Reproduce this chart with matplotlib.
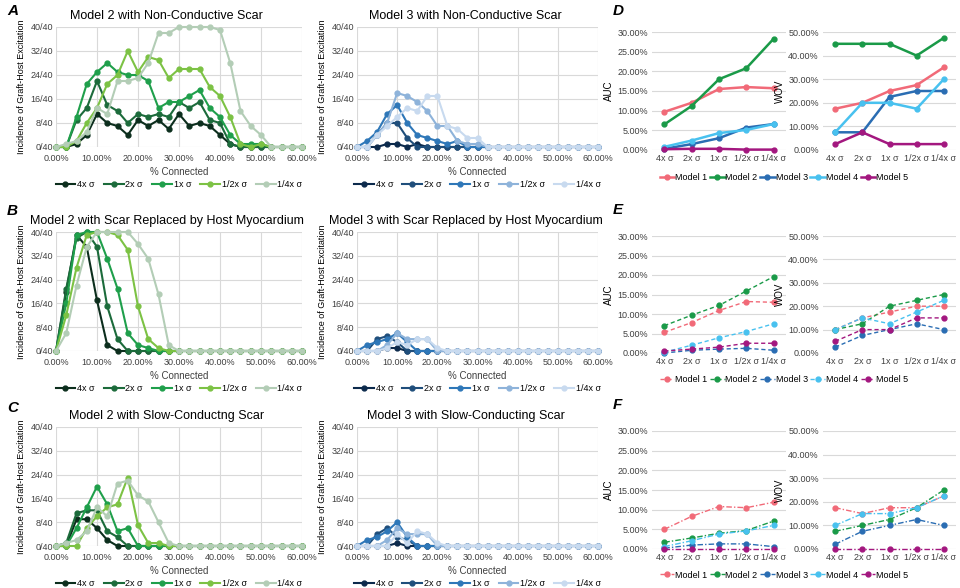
import matplotlib.pyplot as plt
import numpy as np

plt.rcParams['font.family'] = ['Liberation Sans', 'DejaVu Sans']

# % connected, 0 to 60 in 2.5 steps
connected = np.arange(0, 60.1, 2.5)
sigma_labels = ['4x σ', '2x σ', '1x σ', '1/2x σ', '1/4x σ']


def pad(vals):
    return list(vals) + [0] * (25 - len(vals))


# panel A (non-conductive scar)
m2_nonconductive = [
    pad([0, 0, 1, 4, 11, 8, 7, 4, 9, 7, 9, 6, 11, 7, 8, 7, 4, 1, 0]),
    pad([0, 0, 9, 13, 22, 14, 12, 8, 11, 10, 11, 10, 15, 13, 15, 9, 8, 1, 0]),
    pad([0, 0, 10, 21, 25, 28, 25, 24, 24, 22, 13, 15, 15, 17, 19, 13, 10, 4, 1, 1, 1, 0]),
    pad([0, 0, 2, 8, 13, 21, 24, 32, 25, 30, 29, 23, 26, 26, 26, 20, 17, 10, 1, 0, 1, 0]),
    pad([0, 1, 2, 5, 13, 11, 22, 22, 23, 28, 38, 38, 40, 40, 40, 40, 39, 28, 12, 7, 4, 0]),
]
m3_nonconductive = [
    pad([0, 0, 0, 1, 1, 0, 1, 0]),
    pad([0, 0, 4, 8, 8, 3, 0]),
    pad([0, 2, 5, 11, 14, 8, 4, 3, 2, 1, 2, 0]),
    pad([0, 0, 4, 8, 18, 17, 15, 12, 7, 7, 2, 1, 1, 0]),
    pad([0, 0, 4, 7, 10, 13, 12, 17, 17, 7, 6, 3, 3, 0]),
]

# panel B (scar replaced by host myocardium)
m2_host = [
    pad([0, 20, 39, 35, 17, 2, 0]),
    pad([0, 21, 38, 40, 35, 15, 4, 0]),
    pad([0, 16, 39, 40, 40, 31, 21, 6, 2, 1, 0]),
    pad([0, 12, 28, 39, 40, 40, 39, 34, 15, 4, 1, 0]),
    pad([0, 6, 22, 35, 40, 40, 40, 40, 36, 31, 19, 2, 0]),
]
m3_host = [
    pad([0, 0, 0, 1, 1, 0]),
    pad([0, 0, 4, 5, 3, 0]),
    pad([0, 2, 3, 4, 6, 3, 0]),
    pad([0, 0, 0, 2, 6, 4, 4, 4, 0]),
    pad([0, 0, 0, 1, 3, 2, 4, 4, 1, 0]),
]

# panel C (slow-conducting scar)
m2_slow = [
    pad([0, 0, 9, 9, 6, 2, 0]),
    pad([0, 1, 11, 12, 12, 5, 3, 0]),
    pad([0, 0, 6, 13, 20, 14, 5, 6, 0]),
    pad([0, 0, 0, 6, 10, 13, 14, 23, 7, 1, 1, 0]),
    pad([0, 1, 2, 5, 13, 10, 21, 22, 17, 15, 8, 1, 0]),
]
m3_slow = [
    pad([0, 0, 0, 0, 1, 0]),
    pad([0, 0, 4, 6, 3, 2, 0]),
    pad([0, 2, 3, 5, 8, 3, 0]),
    pad([0, 0, 0, 2, 6, 4, 4, 4, 0]),
    pad([0, 0, 0, 0, 4, 1, 5, 4, 1, 0]),
]

# panels D-F (AUC and WOV in %)
models = ['Model 1', 'Model 2', 'Model 3', 'Model 4', 'Model 5']
auc_d = [[9.7, 12.0, 15.5, 16.0, 15.7],
         [6.5, 11.2, 18.0, 20.8, 28.3],
         [0.3, 1.5, 3.0, 5.7, 6.6],
         [0.8, 2.4, 4.3, 5.1, 6.6],
         [0.2, 0.3, 0.3, 0.1, 0.1]]
wov_d = [[17.5, 20, 25, 27.5, 35],
         [45, 45, 45, 40, 47.5],
         [7.5, 7.5, 22.5, 25, 25],
         [7.5, 20, 20, 17.5, 30],
         [2.5, 7.5, 2.5, 2.5, 2.5]]
auc_e = [[5.3, 7.8, 10.9, 13.2, 13.0],
         [7.0, 9.7, 12.2, 15.9, 19.6],
         [0.0, 0.7, 1.0, 1.2, 0.7],
         [0.2, 2.0, 3.9, 5.5, 7.5],
         [0.5, 1.0, 1.5, 2.5, 2.5]]
wov_e = [[10, 15, 17.5, 20, 20],
         [10, 12.5, 20, 22.5, 25],
         [2.5, 7.5, 10, 12.5, 10],
         [10, 15, 12.5, 17.5, 22.5],
         [5, 10, 10, 15, 15]]
auc_f = [[5.0, 8.3, 10.8, 10.5, 11.9],
         [1.7, 2.8, 4.0, 4.7, 7.1],
         [0.2, 1.0, 1.3, 1.3, 0.6],
         [0.6, 2.1, 3.8, 4.6, 6.0],
         [0, 0, 0, 0, 0]]
wov_f = [[17.5, 15, 17.5, 17.5, 22.5],
         [7.5, 10, 12.5, 17.5, 25],
         [2, 7.5, 10, 12.5, 10],
         [10, 15, 15, 17.5, 22.5],
         [0, 0, 0, 0, 0]]

greens = ['#0c2e1d', '#1c6b3b', '#1f9f4b', '#7cc244', '#b3cdb6']
blues = ['#0c2a4c', '#1f4e7b', '#2e77b8', '#8eb3da', '#c8daef']
model_colors = ['#f16a78', '#1a9a48', '#2a6db3', '#48c1ef', '#a3177f']

W, H = 960, 588
fig = plt.figure(figsize=(W / 100, H / 100), dpi=100)


def px_axes(x0, y0, x1, y1):
    return fig.add_axes([x0 / W, 1 - y1 / H, (x1 - x0) / W, (y1 - y0) / H])


def incidence_plot(box, series, colors, title):
    ax = px_axes(*box)
    for vals, c, lab in zip(series, colors, sigma_labels):
        ax.plot(connected, vals, color=c, lw=1.5, marker='o', ms=3.5,
                label=lab, clip_on=False, zorder=3)
    ax.set_xlim(0, 60)
    ax.set_ylim(0, 40)
    ax.set_xticks(range(0, 61, 10))
    ax.set_xticklabels([f'{v}.00%' for v in range(0, 61, 10)])
    ax.set_yticks(range(0, 41, 8))
    ax.set_yticklabels([f'{v}/40' for v in range(0, 41, 8)])
    ax.grid(color='#d9d9d9', lw=0.8)
    for s in ax.spines.values():
        s.set_visible(False)
    ax.tick_params(length=0, labelsize=6.5, colors='#404040')
    ax.tick_params(axis='x', pad=5)
    ax.tick_params(axis='y', pad=2)
    ax.set_title(title, fontsize=9, pad=6, x=0.45)
    ax.set_xlabel('% Connected', fontsize=7, labelpad=3, color='#404040')
    ax.set_ylabel('Incidence of Graft-Host Excitation', fontsize=6.5, labelpad=3)
    ax.legend(loc='upper center', bbox_to_anchor=(0.5, -0.24), ncol=5,
              frameon=False, fontsize=6.5, handlelength=2.2, columnspacing=1.0,
              handletextpad=0.2, borderpad=0)
    return ax


def summary_plot(box, series, ylim, step, ylabel, ls, lw):
    ax = px_axes(*box)
    x = np.arange(5)
    for vals, c, lab in zip(series, model_colors, models):
        ax.plot(x, vals, color=c, lw=lw, ls=ls, marker='o', ms=3.5,
                label=lab, clip_on=False, zorder=3)
    ax.set_xlim(-0.45, 4.45)
    ax.set_ylim(0, ylim)
    ax.set_yticks(np.arange(0, ylim + 0.1, step))
    ax.set_yticklabels([f'{v:.2f}%' for v in np.arange(0, ylim + 0.1, step)])
    ax.set_xticks(x)
    ax.set_xticklabels(sigma_labels)
    ax.yaxis.grid(color='#d9d9d9', lw=0.8)
    for s in ax.spines.values():
        s.set_visible(False)
    ax.tick_params(length=0, labelsize=6.5, pad=3, colors='#404040')
    ax.set_ylabel(ylabel, fontsize=7, labelpad=2)
    return ax


rows = [
    (27, 147, m2_nonconductive, m3_nonconductive,
     'Model 2 with Non-Conductive Scar', 'Model 3 with Non-Conductive Scar'),
    (232, 351, m2_host, m3_host,
     'Model 2 with Scar Replaced by Host Myocardium',
     'Model 3 with Scar Replaced by Host Myocardium'),
    (427, 546, m2_slow, m3_slow,
     'Model 2 with Slow-Conductng Scar', 'Model 3 with Slow-Conducting Scar'),
]
for top, bot, left_data, right_data, t1, t2 in rows:
    incidence_plot((56, top, 302, bot), left_data, greens, t1)
    incidence_plot((357, top, 598, bot), right_data, blues, t2)

summaries = [
    (32, 150, auc_d, wov_d, '-', 1.8, 178),
    (236, 353, auc_e, wov_e, (0, (3, 2)), 1.0, 380),
    (431, 549, auc_f, wov_f, (0, (4, 1.5, 1, 1.5)), 1.0, 575),
]
for top, bot, auc, wov, ls, lw, leg_y in summaries:
    a1 = summary_plot((652, top, 786, bot), auc, 30, 5, 'AUC', ls, lw)
    summary_plot((823, top, 956, bot), wov, 50, 10, 'WOV', ls, lw)
    h, l = a1.get_legend_handles_labels()
    fig.legend(h, l, loc='center', bbox_to_anchor=(784 / W, 1 - leg_y / H),
               ncol=5, frameon=False, fontsize=6.5, handlelength=1.6,
               columnspacing=0.3, handletextpad=0.1)

for letter, (x, y) in zip('ABCDEF', [(7, 11), (7, 211), (7, 408),
                                    (613, 11), (613, 210), (613, 405)]):
    fig.text(x / W, 1 - y / H, letter, fontsize=11, fontweight='bold',
             fontstyle='italic', va='center', ha='left')

fig.savefig('out.png', dpi=100, facecolor='white')
